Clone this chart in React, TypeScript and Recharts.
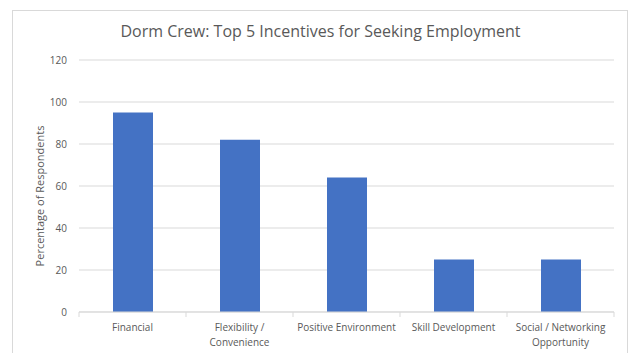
import React from "react";
import { BarChart, Bar, XAxis, YAxis, CartesianGrid, Label } from "recharts";

const categories = [
  "Financial",
  "Flexibility /\nConvenience",
  "Positive Environment",
  "Skill Development",
  "Social / Networking\nOpportunity",
];
const percentages = [95, 82, 64, 25, 25];
const yTicks = [0, 20, 40, 60, 80, 100, 120];

const data = categories.map((name, i) => ({ name, value: percentages[i] }));

const W = 632;
const H = 353;
const margin = { top: 60, right: 18, bottom: 0, left: 0 };
const yAxisWidth = 79;
const plotWidth = W - margin.left - margin.right - yAxisWidth;
const band = plotWidth / categories.length;

const FONT = "'Open Sans', 'Noto Sans', sans-serif";
const TEXT = "#595959";

const XTick = (props: any) => {
  const { x, y, payload, index } = props;
  const lines = String(payload.value).split("\n");
  return (
    <g>
      <line x1={x - band / 2} y1={y - 8} x2={x - band / 2} y2={y - 3} stroke="#d9d9d9" />
      {index === categories.length - 1 && (
        <line x1={x + band / 2} y1={y - 8} x2={x + band / 2} y2={y - 3} stroke="#d9d9d9" />
      )}
      <text textAnchor="middle" fill={TEXT} fontSize={10} fontFamily={FONT}>
        {lines.map((l, i) => (
          <tspan key={i} x={x} y={y + 11 + i * 14.5}>
            {l}
          </tspan>
        ))}
      </text>
    </g>
  );
};

export default function App() {
  return (
    <div style={{ position: "absolute", left: 0, top: 0, width: W, height: H, background: "#fff", overflow: "hidden" }}>
      <div
        style={{
          position: "absolute",
          left: 12,
          top: 10,
          width: 616,
          height: 360,
          border: "1px solid #d9d9d9",
          boxSizing: "border-box",
        }}
      />
      <div
        style={{
          position: "absolute",
          left: 12,
          width: 617,
          top: 20,
          textAlign: "center",
          fontFamily: FONT,
          fontSize: 16,
          color: TEXT,
        }}
      >
        Dorm Crew: Top 5 Incentives for Seeking Employment
      </div>
      <div style={{ position: "absolute", left: 0, top: 0 }}>
        <BarChart width={W} height={H} data={data} margin={margin}>
          <CartesianGrid vertical={false} stroke="#d9d9d9" />
          <XAxis
            dataKey="name"
            axisLine={{ stroke: "#d9d9d9" }}
            tickLine={false}
            interval={0}
            height={41}
            tick={<XTick />}
          />
          <YAxis
            domain={[0, 120]}
            ticks={yTicks}
            width={yAxisWidth}
            axisLine={false}
            tickLine={false}
            tickMargin={6}
            tick={{ fill: TEXT, fontSize: 10, fontFamily: FONT }}
          >
            <Label
              content={() => (
                <text
                  x={39}
                  y={196}
                  transform="rotate(-90 39 196)"
                  textAnchor="middle"
                  dominantBaseline="central"
                  fill={TEXT}
                  fontSize={11}
                  fontFamily={FONT}
                >
                  Percentage of Respondents
                </text>
              )}
            />
          </YAxis>
          <Bar dataKey="value" fill="#4472C4" barSize={40} isAnimationActive={false} />
        </BarChart>
      </div>
    </div>
  );
}
